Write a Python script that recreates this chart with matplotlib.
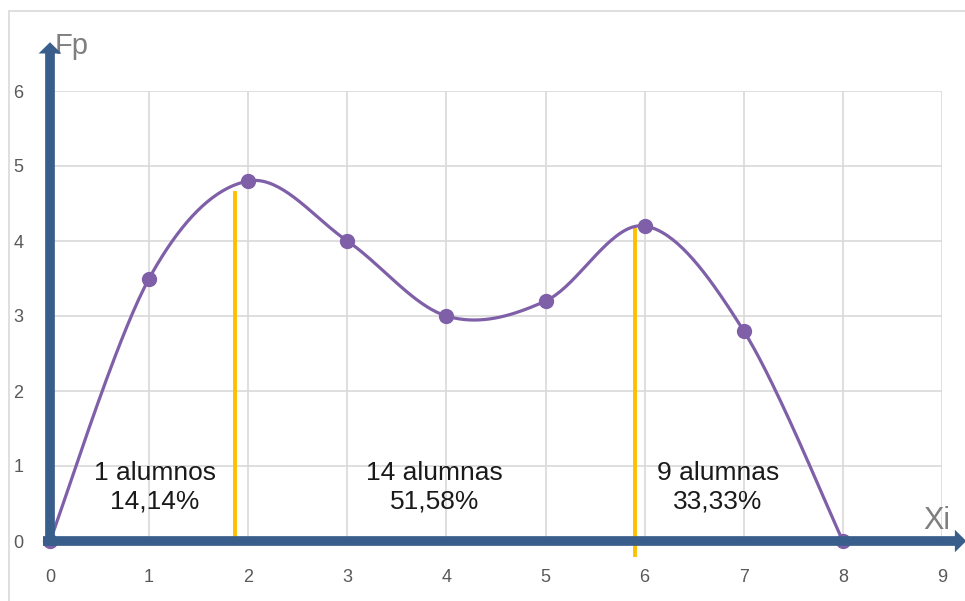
#!/usr/bin/env python

from matplotlib import pyplot as plt
from matplotlib.patches import Rectangle, Polygon
import numpy as np

xi = [0, 1, 2, 3, 4, 5, 6, 7, 8]
fp = [0, 3.5, 4.8, 4.0, 3.0, 3.2, 4.2, 2.8, 0]

# vertical divider lines (x, y_bottom, y_top)
dividers = [(1.87, 0.08, 4.64), (5.90, -0.19, 4.15)]

labels = ['1 alumnos\n14,14%', '14 alumnas\n51,58%', '9 alumnas\n33,33%']
label_x = [1.06, 3.88, 6.74]
label_y = 0.72

purple = '#7f60a8'
blue = '#3a5e8c'
gold = '#ffc000'


def smooth(xs, ys, n=40):
    # excel-like bezier smoothing through the points
    px = [xs[0]] + list(xs) + [xs[-1]]
    py = [ys[0]] + list(ys) + [ys[-1]]
    out_x, out_y = [], []
    t = np.linspace(0, 1, n)
    for i in range(1, len(px) - 2):
        p0 = np.array([px[i], py[i]])
        p3 = np.array([px[i + 1], py[i + 1]])
        p1 = p0 + (np.array([px[i + 1], py[i + 1]]) - np.array([px[i - 1], py[i - 1]])) / 6
        p2 = p3 - (np.array([px[i + 2], py[i + 2]]) - np.array([px[i], py[i]])) / 6
        for tt in t:
            b = ((1 - tt) ** 3) * p0 + 3 * ((1 - tt) ** 2) * tt * p1 \
                + 3 * (1 - tt) * tt ** 2 * p2 + tt ** 3 * p3
            out_x.append(b[0])
            out_y.append(b[1])
    return out_x, out_y


plt.rcParams['font.family'] = ['Liberation Sans', 'DejaVu Sans']

fig = plt.figure(figsize=(9.65, 6.01), dpi=100)
fig.patches.append(Rectangle((9 / 965, -0.1), 1.2, 1.1 - 11 / 601,
                             transform=fig.transFigure, fill=False,
                             edgecolor='#d9d9d9', lw=1.2))
ax = fig.add_axes([50 / 965, 60 / 601, 892 / 965, 450 / 601])
ax.set_xlim(0, 9)
ax.set_ylim(0, 6)
for s in ax.spines.values():
    s.set_visible(False)
ax.set_xticks(range(10))
ax.set_yticks(range(7))
ax.grid(True, color='#d9d9d9', lw=1.2)
ax.set_axisbelow(True)
ax.tick_params(length=0, labelsize=13, labelcolor='#595959')
ax.tick_params(axis='x', pad=20)
ax.tick_params(axis='y', pad=19)

sx, sy = smooth(xi, fp)
ax.plot(sx, sy, color=purple, lw=2.3, zorder=3, clip_on=False)
ax.plot(xi, fp, 'o', color=purple, ms=10, zorder=3, clip_on=False)

for x, y0, y1 in dividers:
    ax.plot([x, x], [y0, y1], color=gold, lw=2.8, zorder=2, clip_on=False)

for t, x in zip(labels, label_x):
    ax.text(x, label_y, t, ha='center', va='center', fontsize=19,
            color='#1a1a1a', linespacing=1.25, zorder=4)

# axis arrows: shafts + filled heads
ax.plot([-0.07, 9.15], [0, 0], color=blue, lw=7, solid_capstyle='butt',
        zorder=5, clip_on=False)
ax.plot([0, 0], [-0.07, 6.52], color=blue, lw=7, solid_capstyle='butt',
        zorder=5, clip_on=False)
ax.add_patch(Polygon([(9.13, 0.15), (9.245, 0), (9.13, -0.15)], closed=True,
                     color=blue, lw=0, zorder=5, clip_on=False))
ax.add_patch(Polygon([(-0.115, 6.50), (0, 6.65), (0.115, 6.50)], closed=True,
                     color=blue, lw=0, zorder=5, clip_on=False))

ax.text(0.05, 6.5, 'Fp', fontsize=21, color='#7f7f7f', clip_on=False)
ax.text(8.81, 0.16, 'Xi', fontsize=22, color='#7f7f7f', clip_on=False)

fig.savefig('out.png', dpi=100)
